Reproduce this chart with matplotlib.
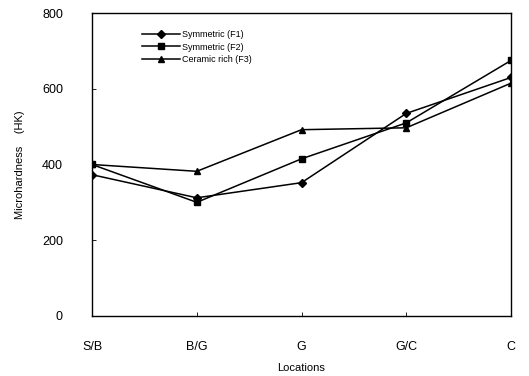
import matplotlib
matplotlib.use("Agg")
import matplotlib.pyplot as plt

locations = ["S/B", "B/G", "G", "G/C", "C"]
f1 = [373, 312, 352, 535, 630]
f2 = [400, 300, 415, 510, 675]
f3 = [400, 382, 492, 497, 615]
yticks = [0, 200, 400, 600, 800]

plt.rcParams['font.family'] = ['Liberation Sans', 'DejaVu Sans']
fig = plt.figure(figsize=(5.29, 3.76), dpi=100)
ax = fig.add_axes([0.174, 0.16, 0.792, 0.805])
x = list(range(len(locations)))
ax.plot(x, f1, color='black', marker='D', markersize=4, lw=1.1, label='Symmetric (F1)')
ax.plot(x, f2, color='black', marker='s', markersize=4.5, lw=1.1, label='Symmetric (F2)')
ax.plot(x, f3, color='black', marker='^', markersize=5, lw=1.1, label='Ceramic rich (F3)')
ax.set_xlim(0, 4)
ax.set_ylim(0, 800)
ax.set_xticks(x)
ax.set_xticklabels(locations, fontsize=9)
ax.set_yticks(yticks)
ax.set_yticklabels([str(v) for v in yticks], fontsize=9)
ax.tick_params(direction='in', length=3, width=0.6)
ax.tick_params(axis='x', pad=18)
ax.tick_params(axis='y', pad=21)
for s in ax.spines.values():
    s.set_linewidth(1.0)
ax.set_xlabel('Locations', fontsize=8, labelpad=7)
ax.set_ylabel('Microhardness    (HK)', fontsize=8, labelpad=12)
leg = ax.legend(loc='upper left', bbox_to_anchor=(0.1, 0.97), frameon=False, fontsize=6.5,
                handlelength=4.2, handletextpad=0.2, labelspacing=0.35)
fig.savefig('out.png', dpi=100)
